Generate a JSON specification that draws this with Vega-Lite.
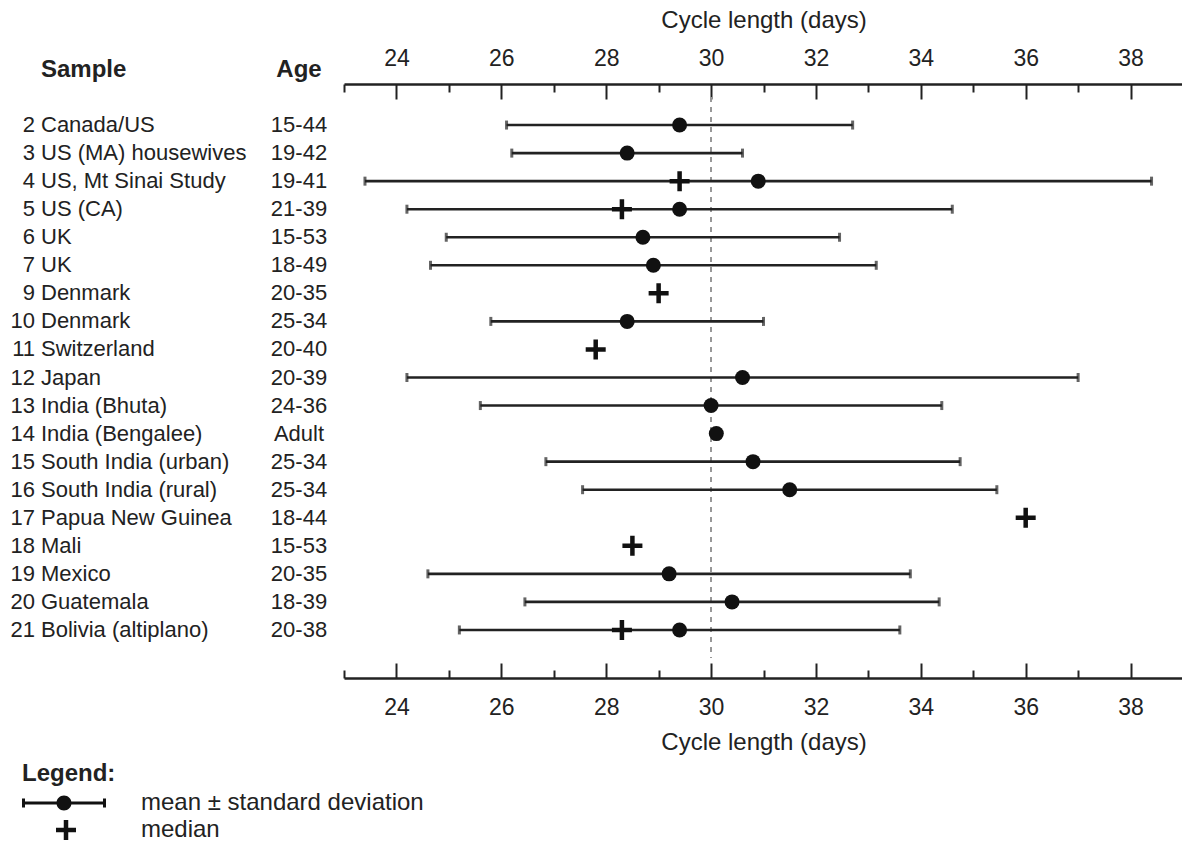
{
  "$schema": "https://vega.github.io/schema/vega-lite/v6.json",
  "background": "white",
  "padding": {"left": 0, "top": 8, "right": 0, "bottom": 0},
  "config": {
    "font": "Liberation Sans",
    "view": {"stroke": null},
    "concat": {"spacing": 0},
    "title": {"color": "#222", "fontSize": 24, "fontWeight": "bold"}
  },
  "datasets": {
    "cycles": [
      {"id": 2, "sample": "Canada/US", "age": "15-44", "mean": 29.4, "lo": 26.1, "hi": 32.7, "median": null},
      {"id": 3, "sample": "US (MA) housewives", "age": "19-42", "mean": 28.4, "lo": 26.2, "hi": 30.6, "median": null},
      {"id": 4, "sample": "US, Mt Sinai Study", "age": "19-41", "mean": 30.9, "lo": 23.4, "hi": 38.4, "median": 29.4},
      {"id": 5, "sample": "US (CA)", "age": "21-39", "mean": 29.4, "lo": 24.2, "hi": 34.6, "median": 28.3},
      {"id": 6, "sample": "UK", "age": "15-53", "mean": 28.7, "lo": 24.95, "hi": 32.45, "median": null},
      {"id": 7, "sample": "UK", "age": "18-49", "mean": 28.9, "lo": 24.65, "hi": 33.15, "median": null},
      {"id": 9, "sample": "Denmark", "age": "20-35", "mean": null, "lo": null, "hi": null, "median": 29.0},
      {"id": 10, "sample": "Denmark", "age": "25-34", "mean": 28.4, "lo": 25.8, "hi": 31.0, "median": null},
      {"id": 11, "sample": "Switzerland", "age": "20-40", "mean": null, "lo": null, "hi": null, "median": 27.8},
      {"id": 12, "sample": "Japan", "age": "20-39", "mean": 30.6, "lo": 24.2, "hi": 37.0, "median": null},
      {"id": 13, "sample": "India (Bhuta)", "age": "24-36", "mean": 30.0, "lo": 25.6, "hi": 34.4, "median": null},
      {"id": 14, "sample": "India (Bengalee)", "age": "Adult", "mean": 30.1, "lo": null, "hi": null, "median": null},
      {"id": 15, "sample": "South India (urban)", "age": "25-34", "mean": 30.8, "lo": 26.85, "hi": 34.75, "median": null},
      {"id": 16, "sample": "South India (rural)", "age": "25-34", "mean": 31.5, "lo": 27.55, "hi": 35.45, "median": null},
      {"id": 17, "sample": "Papua New Guinea", "age": "18-44", "mean": null, "lo": null, "hi": null, "median": 36.0},
      {"id": 18, "sample": "Mali", "age": "15-53", "mean": null, "lo": null, "hi": null, "median": 28.5},
      {"id": 19, "sample": "Mexico", "age": "20-35", "mean": 29.2, "lo": 24.6, "hi": 33.8, "median": null},
      {"id": 20, "sample": "Guatemala", "age": "18-39", "mean": 30.4, "lo": 26.45, "hi": 34.35, "median": null},
      {"id": 21, "sample": "Bolivia (altiplano)", "age": "20-38", "mean": 29.4, "lo": 25.2, "hi": 33.6, "median": 28.3}
    ]
  },
  "hconcat": [
    {
      "width": 41,
      "height": 561,
      "data": {"name": "cycles"},
      "mark": {"type": "text", "align": "right", "baseline": "middle", "x": "width", "dx": -6, "fontSize": 22, "color": "#222"},
      "encoding": {
        "y": {"field": "id", "type": "ordinal", "sort": null, "axis": null, "scale": {"type": "point", "padding": 1, "domain": [2, 3, 4, 5, 6, 7, 9, 10, 11, 12, 13, 14, 15, 16, 17, 18, 19, 20, 21]}},
        "text": {"field": "id", "type": "nominal"}
      }
    },
    {
      "width": 214,
      "height": 561,
      "title": {"text": "Sample", "anchor": "start", "offset": 15},
      "data": {"name": "cycles"},
      "mark": {"type": "text", "align": "left", "baseline": "middle", "x": 0, "fontSize": 22, "color": "#222"},
      "encoding": {
        "y": {"field": "id", "type": "ordinal", "sort": null, "axis": null, "scale": {"type": "point", "padding": 1, "domain": [2, 3, 4, 5, 6, 7, 9, 10, 11, 12, 13, 14, 15, 16, 17, 18, 19, 20, 21]}},
        "text": {"field": "sample", "type": "nominal"}
      }
    },
    {
      "width": 88,
      "height": 561,
      "title": {"text": "Age", "anchor": "middle", "offset": 15},
      "data": {"name": "cycles"},
      "mark": {"type": "text", "align": "center", "baseline": "middle", "fontSize": 22, "color": "#222"},
      "encoding": {
        "y": {"field": "id", "type": "ordinal", "sort": null, "axis": null, "scale": {"type": "point", "padding": 1, "domain": [2, 3, 4, 5, 6, 7, 9, 10, 11, 12, 13, 14, 15, 16, 17, 18, 19, 20, 21]}},
        "text": {"field": "age", "type": "nominal"}
      }
    },
    {
      "width": 839,
      "height": 561,
      "data": {"name": "cycles"},
      "resolve": {"axis": {"x": "independent"}},
      "encoding": {
        "y": {"field": "id", "type": "ordinal", "sort": null, "axis": null, "scale": {"type": "point", "padding": 1, "domain": [2, 3, 4, 5, 6, 7, 9, 10, 11, 12, 13, 14, 15, 16, 17, 18, 19, 20, 21]}}
      },
      "layer": [
        {
          "mark": {"type": "rule", "color": "#999", "strokeWidth": 1.5, "strokeDash": [5, 5]},
          "encoding": {
            "x": {
              "datum": 30, "type": "quantitative",
              "scale": {"domain": [23, 39], "nice": false, "zero": false},
              "axis": {
                "orient": "top", "offset": 13,
                "values": [23, 24, 25, 26, 27, 28, 29, 30, 31, 32, 33, 34, 35, 36, 37, 38, 39],
                "labelExpr": "datum.value % 2 === 0 ? datum.label : ''",
                "tickSize": {"condition": {"test": "datum.value % 2 === 0", "value": -15}, "value": -8},
                "tickWidth": 2, "tickColor": "#222",
                "domainWidth": 2.5, "domainColor": "#222",
                "labelFontSize": 23, "labelColor": "#222", "labelPadding": 29,
                "labelFlush": false, "labelOverlap": false, "grid": false,
                "title": "Cycle length (days)", "titleFontSize": 24, "titleFontWeight": "normal", "titleColor": "#222", "titlePadding": 8
              }
            },
            "y": null
          }
        },
        {
          "mark": {"type": "rule", "color": "#222", "strokeWidth": 2.6},
          "encoding": {
            "x": {
              "field": "lo", "type": "quantitative",
              "scale": {"domain": [23, 39], "nice": false, "zero": false},
              "axis": {
                "orient": "bottom", "offset": 20,
                "values": [23, 24, 25, 26, 27, 28, 29, 30, 31, 32, 33, 34, 35, 36, 37, 38, 39],
                "labelExpr": "datum.value % 2 === 0 ? datum.label : ''",
                "tickSize": {"condition": {"test": "datum.value % 2 === 0", "value": -15}, "value": -8},
                "tickWidth": 2, "tickColor": "#222",
                "domainWidth": 2.5, "domainColor": "#222",
                "labelFontSize": 23, "labelColor": "#222", "labelPadding": 33,
                "labelFlush": false, "labelOverlap": false, "grid": false,
                "title": "Cycle length (days)", "titleFontSize": 24, "titleFontWeight": "normal", "titleColor": "#222", "titlePadding": 4
              }
            },
            "x2": {"field": "hi"}
          }
        },
        {
          "mark": {"type": "tick", "color": "#222", "size": 9, "thickness": 3, "orient": "vertical"},
          "encoding": {"x": {"field": "lo", "type": "quantitative", "axis": null}}
        },
        {
          "mark": {"type": "tick", "color": "#222", "size": 9, "thickness": 3, "orient": "vertical"},
          "encoding": {"x": {"field": "hi", "type": "quantitative", "axis": null}}
        },
        {
          "mark": {"type": "point", "filled": true, "size": 225, "color": "#111", "strokeWidth": 0},
          "encoding": {
            "x": {"field": "mean", "type": "quantitative", "axis": null},
            "opacity": {
              "datum": "mean", "type": "ordinal",
              "scale": {"domain": ["mean", "median"], "range": [1, 1]},
              "legend": {
                "title": "Legend:",
                "orient": "none", "legendX": 22, "legendY": 665,
                "titleFontSize": 24, "titleFontWeight": "bold", "titleColor": "#222",
                "labelFontSize": 24, "labelColor": "#222", "labelOffset": 95, "labelLimit": 0,
                "labelExpr": "datum.value === 'mean' ? 'mean ± standard deviation' : 'median'",
                "symbolSize": 400, "symbolStrokeWidth": 0, "symbolFillColor": "#111", "rowPadding": 3,
                "symbolType": {"expr": "datum.value === 'mean' ? 'M -1.2,-0.14 H 7.2 V 0.14 H -1.2 Z M -1.2,-0.45 H -0.9 V 0.45 H -1.2 Z M 6.9,-0.45 H 7.2 V 0.45 H 6.9 Z M 2.25,0 A 0.75,0.75 0 1 1 3.75,0 A 0.75,0.75 0 1 1 2.25,0 Z' : 'M 2.2,-0.225 H 2.975 V -1 H 3.425 V -0.225 H 4.2 V 0.225 H 3.425 V 1 H 2.975 V 0.225 H 2.2 Z'"},
                "encode": {
                  "symbols": {
                    "shape": {"value": {"expr": "datum.value === 'mean' ? 'M -1.2,-0.14 H 7.2 V 0.14 H -1.2 Z M -1.2,-0.45 H -0.9 V 0.45 H -1.2 Z M 6.9,-0.45 H 7.2 V 0.45 H 6.9 Z M 2.25,0 A 0.75,0.75 0 1 1 3.75,0 A 0.75,0.75 0 1 1 2.25,0 Z' : 'M 2.2,-0.225 H 2.975 V -1 H 3.425 V -0.225 H 4.2 V 0.225 H 3.425 V 1 H 2.975 V 0.225 H 2.2 Z'"}},
                    "size": {"value": 400},
                    "fill": {"value": "#111"}
                  }
                }
              }
            }
          }
        },
        {
          "mark": {"type": "point", "filled": true, "size": 400, "color": "#111", "strokeWidth": 0, "shape": "M -1,-0.225 H -0.225 V -1 H 0.225 V -0.225 H 1 V 0.225 H 0.225 V 1 H -0.225 V 0.225 H -1 Z"},
          "encoding": {
            "x": {"field": "median", "type": "quantitative", "axis": null},
            "opacity": {"datum": "median", "type": "ordinal"}
          }
        }
      ]
    }
  ]
}
